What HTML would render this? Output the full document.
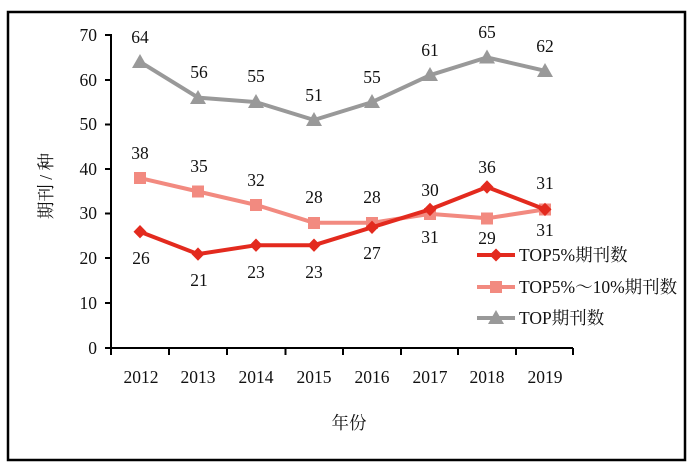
<!DOCTYPE html>
<html><head><meta charset="utf-8"><style>
html,body{margin:0;padding:0;background:#fff;}
svg{display:block;}
text{font-family:"Liberation Serif","Noto Serif CJK SC",serif;font-size:17.5px;fill:#111;}
</style></head><body>
<svg width="700" height="468" viewBox="0 0 700 468" xmlns="http://www.w3.org/2000/svg">
<rect x="8" y="12" width="677" height="448" fill="#fff" stroke="#000" stroke-width="2.5"/>
<!-- axes -->
<g stroke="#000" stroke-width="2" fill="none">
<line x1="111" y1="34" x2="111" y2="349"/>
<line x1="110" y1="348" x2="573" y2="348"/>
<line x1="105" y1="35" x2="111" y2="35"/>
<line x1="105" y1="80" x2="111" y2="80"/>
<line x1="105" y1="124.5" x2="111" y2="124.5"/>
<line x1="105" y1="169" x2="111" y2="169"/>
<line x1="105" y1="213.5" x2="111" y2="213.5"/>
<line x1="105" y1="258" x2="111" y2="258"/>
<line x1="105" y1="303" x2="111" y2="303"/>
<line x1="105" y1="348" x2="111" y2="348"/>
<line x1="111" y1="348" x2="111" y2="355"/>
<line x1="169" y1="348" x2="169" y2="355"/>
<line x1="227" y1="348" x2="227" y2="355"/>
<line x1="285.5" y1="348" x2="285.5" y2="355"/>
<line x1="343" y1="348" x2="343" y2="355"/>
<line x1="401" y1="348" x2="401" y2="355"/>
<line x1="458" y1="348" x2="458" y2="355"/>
<line x1="516" y1="348" x2="516" y2="355"/>
<line x1="573" y1="348" x2="573" y2="355"/>
</g>
<!-- y labels -->
<g text-anchor="end">
<text x="97" y="41">70</text>
<text x="97" y="86">60</text>
<text x="97" y="130">50</text>
<text x="97" y="175">40</text>
<text x="97" y="219">30</text>
<text x="97" y="264">20</text>
<text x="97" y="309">10</text>
<text x="97" y="354">0</text>
</g>
<!-- x labels -->
<g text-anchor="middle">
<text x="141" y="383">2012</text>
<text x="198" y="383">2013</text>
<text x="256" y="383">2014</text>
<text x="314" y="383">2015</text>
<text x="372" y="383">2016</text>
<text x="430" y="383">2017</text>
<text x="487" y="383">2018</text>
<text x="545" y="383">2019</text>
<text x="349" y="429">年份</text>
<text transform="translate(52,186) rotate(-90)">期刊 / 种</text>
</g>
<!-- gray series -->
<polyline fill="none" stroke="#999" stroke-width="4" stroke-linejoin="round" points="140,61.8 198,97.6 256,102.1 314,120 372,102.1 430,75.2 487,57.4 545,70.8"/>
<g fill="#999">
<polygon points="140,54 148,68 132,68"/>
<polygon points="198,90 206,104 190,104"/>
<polygon points="256,94 264,108 248,108"/>
<polygon points="314,112 322,126 306,126"/>
<polygon points="372,94 380,108 364,108"/>
<polygon points="430,67 438,81 422,81"/>
<polygon points="487,49.5 495,63.5 479,63.5"/>
<polygon points="545,63 553,77 537,77"/>
</g>
<!-- pink series -->
<polyline fill="none" stroke="#F28A80" stroke-width="4" stroke-linejoin="round" points="140,178.1 198,191.5 256,204.9 314,222.8 372,222.8 430,213.9 487,218.3 545,209.4"/>
<g fill="#F28A80">
<rect x="134" y="172" width="12" height="12"/>
<rect x="192" y="185.5" width="12" height="12"/>
<rect x="250" y="199" width="12" height="12"/>
<rect x="308" y="217" width="12" height="12"/>
<rect x="366" y="217" width="12" height="12"/>
<rect x="424" y="208" width="12" height="12"/>
<rect x="481" y="212.5" width="12" height="12"/>
<rect x="539" y="203.5" width="12" height="12"/>
</g>
<!-- red series -->
<polyline fill="none" stroke="#E32A1E" stroke-width="4" stroke-linejoin="round" points="140,231.7 198,254.1 256,245.2 314,245.2 372,227.3 430,209.4 487,187 545,209.4"/>
<g fill="#E32A1E">
<polygon points="140,225 146.5,231.7 140,238.4 133.5,231.7"/>
<polygon points="198,247.4 204.5,254.1 198,260.8 191.5,254.1"/>
<polygon points="256,238.5 262.5,245.2 256,251.9 249.5,245.2"/>
<polygon points="314,238.5 320.5,245.2 314,251.9 307.5,245.2"/>
<polygon points="372,220.6 378.5,227.3 372,234 365.5,227.3"/>
<polygon points="430,202.7 436.5,209.4 430,216.1 423.5,209.4"/>
<polygon points="487,180.3 493.5,187 487,193.7 480.5,187"/>
<polygon points="545,202.7 551.5,209.4 545,216.1 538.5,209.4"/>
</g>
<!-- data labels -->
<g text-anchor="middle">
<text x="140" y="43">64</text>
<text x="199" y="78">56</text>
<text x="256" y="82">55</text>
<text x="314" y="101">51</text>
<text x="372" y="83">55</text>
<text x="430" y="56">61</text>
<text x="487" y="38">65</text>
<text x="545" y="52">62</text>

<text x="140" y="159">38</text>
<text x="199" y="172">35</text>
<text x="256" y="186">32</text>
<text x="314" y="203">28</text>
<text x="372" y="203">28</text>
<text x="430" y="196">30</text>
<text x="487" y="244">29</text>
<text x="545" y="236">31</text>

<text x="141" y="264">26</text>
<text x="199" y="286">21</text>
<text x="256" y="278">23</text>
<text x="314" y="278">23</text>
<text x="372" y="259">27</text>
<text x="430" y="243">31</text>
<text x="487" y="173">36</text>
<text x="545" y="189">31</text>
</g>
<!-- legend -->
<line x1="477" y1="255" x2="515" y2="255" stroke="#E32A1E" stroke-width="4"/>
<polygon points="496,248.5 502.5,255 496,261.5 489.5,255" fill="#E32A1E"/>
<text x="519" y="261">TOP5%期刊数</text>
<line x1="477" y1="287" x2="515" y2="287" stroke="#F28A80" stroke-width="4"/>
<rect x="490" y="281" width="12" height="12" fill="#F28A80"/>
<text x="519" y="293">TOP5%～10%期刊数</text>
<line x1="477" y1="318" x2="515" y2="318" stroke="#999" stroke-width="4"/>
<polygon points="496,310 504,324 488,324" fill="#999"/>
<text x="519" y="324">TOP期刊数</text>
</svg>
</body></html>
